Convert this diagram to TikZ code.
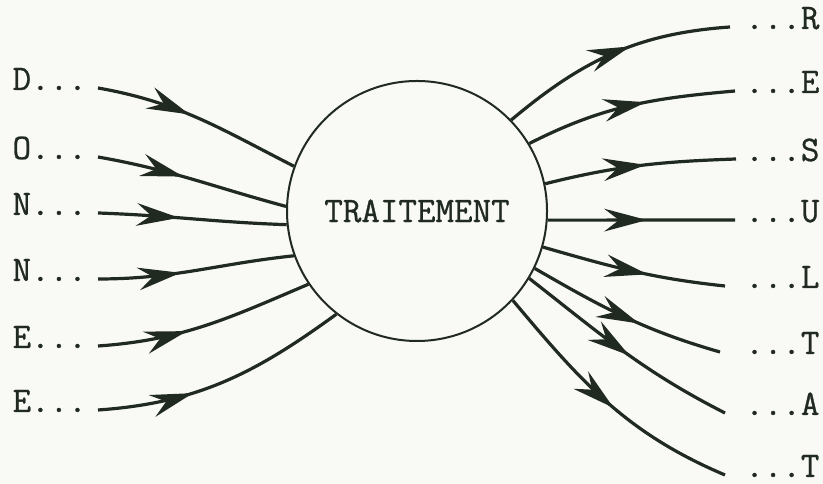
\documentclass[tikz,border=0pt]{standalone}
\usepackage{fontspec}
\usetikzlibrary{arrows.meta,decorations.markings}
\newfontfamily\typw{Latin Modern Mono}[FakeBold=0.8]
\definecolor{ink}{RGB}{32,42,32}
\definecolor{paper}{RGB}{249,249,246}
\tikzset{
  lbl/.style={font=\typw\fontsize{27}{30}\selectfont,text=ink,inner sep=0pt},
  flow/.style={color=ink,line width=2.4pt,postaction=decorate,
    decoration={markings,mark=at position #1 with {\arrow{Stealth[length=32pt,width=17pt,inset=11pt]}}}}
}
\begin{document}
\begin{tikzpicture}[x=0.75pt,y=0.75pt]
  \fill[paper] (0,0) rectangle (823,484);
  \useasboundingbox (0,0) rectangle (823,484);
  \node[lbl,circle,draw=ink,line width=1.5pt,minimum size=195pt] (trt) at (417,273) {TRAITEMENT};
  \foreach \n/\t/\y/\a/\o/\i/\p in {1/D/396/160.5/-10/153/0.45,2/O/327/178/-10/165/0.45,3/N/271/186/-2/178/0.43,
      4/N/205/200.6/0/186/0.42,5/E/138/214/4/203/0.41,6/E/74/232/4/216/0.37}{
    \coordinate (d\n) at (98,\y);
    \node[lbl,anchor=base east] (ld\n) at (87,\y-2) {\t...};
    \draw[flow=\p] (d\n) to[out=\o,in=\i] (trt.\a);
  }
  \foreach \n/\t/\x/\y/\a/\o/\i/\p in {1/R/730/457/44/40/184/0.58,2/E/735/393/31/27/185/0.58,3/S/736/325/12.8/14/182/0.53,
      4/U/735/264/-4/0/180/0.53,5/L/725/198/-16/-16/174/0.58,6/T/720/132/-26/-30/164/0.58,
      7/A/725/71/-31/-38/153/0.53,8/T/725/9/-43/-50/157/0.53}{
    \coordinate (r\n) at (\x,\y);
    \node[lbl,anchor=base west] (lr\n) at (745,\y-2) {...\t};
    \draw[flow=\p] (trt.\a) to[out=\o,in=\i] (r\n);
  }
\end{tikzpicture}
\end{document}
